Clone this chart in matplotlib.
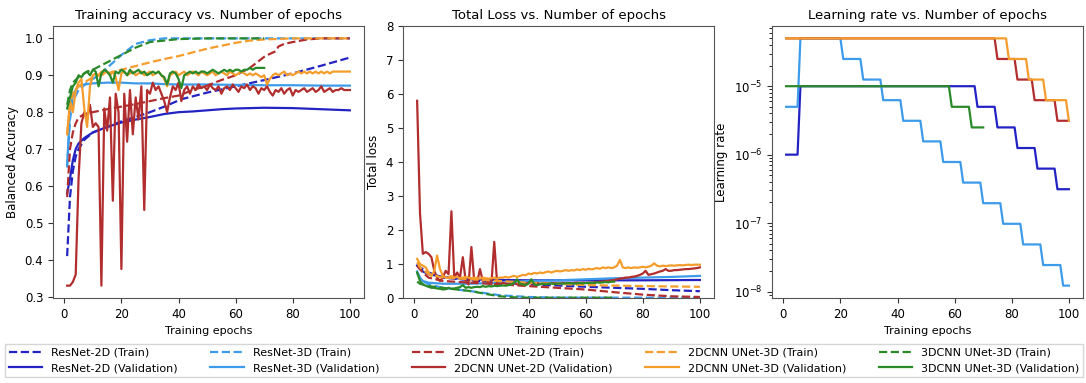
import matplotlib
matplotlib.use("Agg")
import matplotlib.pyplot as plt

# ---------------- data ----------------
epochs = list(range(1, 101))
epochs70 = list(range(1, 71))

# Accuracy (smooth curves, sampled epochs)
acc_r2d_train_x = [1, 2, 3, 4, 5, 7, 10, 15, 20, 25, 30, 35, 41, 50, 60, 70, 80, 90, 100]
acc_r2d_train = [0.41, 0.57, 0.64, 0.68, 0.70, 0.725, 0.745, 0.76, 0.775, 0.787, 0.80, 0.815, 0.835,
                 0.853, 0.87, 0.887, 0.905, 0.926, 0.948]
acc_r2d_val_x = [1, 2, 3, 4, 5, 7, 10, 15, 20, 25, 30, 35, 40, 45, 50, 55, 60, 70, 80, 90, 100]
acc_r2d_val = [0.58, 0.62, 0.67, 0.70, 0.715, 0.73, 0.745, 0.76, 0.772, 0.78, 0.787, 0.795, 0.80,
               0.802, 0.805, 0.808, 0.81, 0.812, 0.811, 0.808, 0.805]
acc_r3d_train_x = [1, 2, 3, 5, 8, 12, 15, 20, 25, 30, 35, 50, 100]
acc_r3d_train = [0.65, 0.78, 0.83, 0.86, 0.88, 0.90, 0.92, 0.955, 0.985, 0.995, 1.0, 1.0, 1.0]
acc_r3d_val_x = [1, 2, 3, 4, 5, 7, 10, 15, 20, 25, 30, 35, 40, 50, 60, 70, 80, 90, 100]
acc_r3d_val = [0.66, 0.80, 0.845, 0.86, 0.87, 0.875, 0.878, 0.88, 0.88, 0.878, 0.878, 0.876, 0.875,
               0.875, 0.874, 0.873, 0.873, 0.872, 0.872]
acc_u2d_train_x = [1, 2, 3, 4, 5, 7, 10, 15, 20, 25, 30, 35, 40, 45, 50, 55, 60, 65, 70, 72, 74, 75,
                   77, 80, 85, 90, 100]
acc_u2d_train = [0.57, 0.70, 0.745, 0.77, 0.785, 0.795, 0.80, 0.808, 0.815, 0.822, 0.83, 0.838,
                 0.845, 0.86, 0.872, 0.887, 0.90, 0.92, 0.95, 0.958, 0.965, 0.978, 0.985, 0.99,
                 0.997, 1.0, 1.0]
acc_u2d_val = [0.33, 0.33, 0.34, 0.36, 0.62, 0.77, 0.80, 0.78, 0.82, 0.76,
               0.77, 0.76, 0.33, 0.81, 0.75, 0.84, 0.56, 0.85, 0.80, 0.375,
               0.85, 0.72, 0.86, 0.74, 0.84, 0.78, 0.87, 0.535, 0.86, 0.85,
               0.88, 0.86, 0.87, 0.85, 0.83, 0.80, 0.84, 0.87, 0.86, 0.88,
               0.83, 0.86, 0.87, 0.85, 0.87, 0.86, 0.875, 0.865, 0.87, 0.86,
               0.875, 0.865, 0.86, 0.87, 0.85, 0.865, 0.87, 0.86, 0.875, 0.865,
               0.855, 0.87, 0.865, 0.875, 0.86, 0.87, 0.865, 0.85, 0.865, 0.86,
               0.87, 0.855, 0.845, 0.86, 0.855, 0.865, 0.85, 0.86, 0.865, 0.845,
               0.86, 0.855, 0.86, 0.865, 0.855, 0.86, 0.865, 0.855, 0.86, 0.87,
               0.855, 0.86, 0.865, 0.855, 0.86, 0.86, 0.865, 0.86, 0.86, 0.86]
acc_u3d_train_x = [1, 2, 3, 5, 7, 10, 15, 20, 25, 30, 35, 40, 45, 50, 55, 60, 65, 70, 80, 100]
acc_u3d_train = [0.74, 0.82, 0.85, 0.87, 0.88, 0.895, 0.905, 0.915, 0.925, 0.935, 0.944, 0.952,
                 0.962, 0.972, 0.98, 0.988, 0.994, 0.997, 1.0, 1.0]
acc_u3d_val = [0.74, 0.83, 0.80, 0.86, 0.88, 0.89, 0.81, 0.76, 0.87, 0.90,
               0.905, 0.90, 0.91, 0.905, 0.91, 0.90, 0.91, 0.895, 0.86, 0.905,
               0.91, 0.90, 0.905, 0.91, 0.90, 0.905, 0.91, 0.90, 0.905, 0.91,
               0.90, 0.905, 0.91, 0.90, 0.89, 0.87, 0.90, 0.905, 0.91, 0.90,
               0.905, 0.91, 0.90, 0.905, 0.91, 0.905, 0.90, 0.91, 0.905, 0.90,
               0.905, 0.91, 0.90, 0.905, 0.91, 0.905, 0.90, 0.91, 0.905, 0.90,
               0.905, 0.91, 0.905, 0.90, 0.905, 0.90, 0.905, 0.90, 0.895, 0.90,
               0.875, 0.89, 0.90, 0.905, 0.90, 0.905, 0.91, 0.90, 0.905, 0.90,
               0.905, 0.91, 0.905, 0.91, 0.905, 0.91, 0.905, 0.91, 0.905, 0.91,
               0.905, 0.91, 0.905, 0.91, 0.91, 0.91, 0.91, 0.91, 0.91, 0.91]
acc_c3d_train_x = [1, 2, 3, 5, 8, 10, 15, 20, 25, 30, 40, 50, 70]
acc_c3d_train = [0.82, 0.86, 0.88, 0.895, 0.91, 0.915, 0.935, 0.955, 0.975, 0.99, 0.998, 1.0, 1.0]
acc_c3d_val = [0.81, 0.84, 0.87, 0.88, 0.90, 0.895, 0.905, 0.91, 0.90, 0.915,
               0.91, 0.87, 0.905, 0.915, 0.91, 0.90, 0.88, 0.91, 0.905, 0.915,
               0.91, 0.90, 0.915, 0.905, 0.91, 0.915, 0.905, 0.91, 0.90, 0.905,
               0.91, 0.905, 0.91, 0.90, 0.895, 0.875, 0.905, 0.91, 0.905, 0.89,
               0.865, 0.90, 0.905, 0.91, 0.905, 0.91, 0.905, 0.91, 0.91, 0.905,
               0.91, 0.915, 0.91, 0.905, 0.91, 0.915, 0.91, 0.915, 0.91, 0.915,
               0.915, 0.91, 0.915, 0.915, 0.92, 0.915, 0.92, 0.92, 0.92, 0.92]

# Loss
loss_r2d_train_x = [1, 2, 5, 10, 20, 30, 40, 50, 60, 70, 80, 90, 100]
loss_r2d_train = [1.0, 0.9, 0.75, 0.6, 0.52, 0.45, 0.40, 0.37, 0.33, 0.30, 0.27, 0.23, 0.20]
loss_r2d_val_x = [1, 2, 3, 5, 10, 15, 20, 30, 40, 60, 80, 100]
loss_r2d_val = [0.95, 0.85, 0.78, 0.70, 0.62, 0.58, 0.55, 0.53, 0.52, 0.52, 0.52, 0.53]
loss_r3d_train_x = [1, 2, 5, 10, 20, 30, 40, 50, 100]
loss_r3d_train = [0.75, 0.55, 0.40, 0.30, 0.20, 0.08, 0.03, 0.01, 0.01]
loss_r3d_val_x = [1, 2, 3, 5, 10, 20, 30, 40, 50, 60, 70, 80, 90, 100]
loss_r3d_val = [0.78, 0.60, 0.50, 0.45, 0.42, 0.42, 0.45, 0.50, 0.52, 0.55, 0.58, 0.60, 0.62, 0.65]
loss_u2d_train_x = [1, 2, 3, 5, 10, 20, 30, 40, 50, 60, 70, 80, 90, 100]
loss_u2d_train = [0.95, 0.85, 0.75, 0.60, 0.50, 0.45, 0.40, 0.35, 0.30, 0.25, 0.17, 0.10, 0.05, 0.03]
loss_u2d_val = [5.8, 2.5, 1.3, 1.35, 1.3, 1.2, 0.8, 0.6, 0.5, 0.6,
                0.8, 0.7, 2.55, 0.6, 0.75, 0.6, 1.2, 0.5, 0.4, 1.5,
                0.5, 0.45, 0.85, 0.5, 0.55, 0.45, 0.4, 1.65, 0.45, 0.4,
                0.45, 0.42, 0.4, 0.42, 0.45, 0.4, 0.42, 0.4, 0.42, 0.45,
                0.43, 0.42, 0.44, 0.42, 0.43, 0.44, 0.42, 0.43, 0.44, 0.43,
                0.42, 0.44, 0.43, 0.44, 0.43, 0.44, 0.45, 0.44, 0.45, 0.44,
                0.45, 0.45, 0.46, 0.47, 0.48, 0.48, 0.50, 0.50, 0.52, 0.53,
                0.55, 0.57, 0.58, 0.60, 0.60, 0.62, 0.63, 0.65, 0.68, 0.72,
                0.80, 0.68, 0.70, 0.72, 0.75, 0.78, 0.80, 0.85, 0.80, 0.80,
                0.82, 0.82, 0.83, 0.84, 0.85, 0.85, 0.86, 0.87, 0.88, 0.90]
loss_u3d_train_x = [1, 2, 5, 10, 20, 30, 40, 60, 80, 100]
loss_u3d_train = [1.05, 0.9, 0.7, 0.6, 0.55, 0.5, 0.45, 0.38, 0.35, 0.33]
loss_u3d_val = [1.15, 1.0, 0.95, 0.9, 0.75, 0.65, 0.8, 1.25, 0.85, 0.65,
                0.6, 0.6, 0.65, 0.6, 0.62, 0.58, 0.6, 0.62, 0.6, 0.58,
                0.6, 0.58, 0.57, 0.6, 0.58, 0.57, 0.58, 0.6, 0.57, 0.6,
                0.6, 0.62, 0.6, 0.63, 0.65, 0.62, 0.65, 0.68, 0.67, 0.72,
                0.7, 0.74, 0.72, 0.75, 0.73, 0.76, 0.78, 0.75, 0.78, 0.8,
                0.78, 0.8, 0.82, 0.8, 0.82, 0.81, 0.84, 0.82, 0.85, 0.83,
                0.86, 0.84, 0.86, 0.88, 0.86, 0.9, 0.88, 0.9, 0.88, 0.9,
                0.95, 1.12, 0.9, 0.88, 0.9, 0.88, 0.9, 0.89, 0.9, 0.92,
                0.9, 0.92, 0.95, 1.02, 0.95, 0.93, 0.95, 0.94, 0.95, 0.96,
                0.95, 0.96, 0.97, 0.96, 0.97, 0.98, 0.97, 0.98, 0.98, 0.98]
loss_c3d_train_x = [1, 2, 5, 10, 15, 20, 25, 30, 35, 40, 70]
loss_c3d_train = [0.48, 0.42, 0.35, 0.30, 0.25, 0.20, 0.12, 0.05, 0.02, 0.01, 0.01]
loss_c3d_val = [0.75, 0.5, 0.4, 0.36, 0.33, 0.3, 0.3, 0.28, 0.27, 0.25,
                0.26, 0.3, 0.27, 0.28, 0.3, 0.32, 0.38, 0.3, 0.32, 0.3,
                0.32, 0.33, 0.32, 0.35, 0.33, 0.35, 0.34, 0.36, 0.35, 0.36,
                0.37, 0.36, 0.38, 0.4, 0.45, 0.55, 0.42, 0.4, 0.38, 0.42,
                0.55, 0.4, 0.38, 0.4, 0.42, 0.4, 0.42, 0.43, 0.41, 0.42,
                0.43, 0.42, 0.43, 0.44, 0.43, 0.42, 0.43, 0.44, 0.43, 0.44,
                0.44, 0.45, 0.44, 0.46, 0.45, 0.46, 0.47, 0.46, 0.48, 0.48]

# Learning-rate schedules (per epoch)
lr_r2d = [1e-6] * 5 + [1e-5] * 62 + [5e-6] * 7 + [2.5e-6] * 7 + [1.25e-6] * 7 + [6.25e-7] * 7 + [3.125e-7] * 5
lr_r3d = ([5e-6] * 5 + [5e-5] * 15 + [2.5e-5] * 7 + [1.25e-5] * 7 + [6.25e-6] * 7 + [3.125e-6] * 7
          + [1.5625e-6] * 7 + [7.8125e-7] * 7 + [3.90625e-7] * 7 + [1.953e-7] * 7 + [9.77e-8] * 7
          + [4.88e-8] * 7 + [2.44e-8] * 7 + [1.22e-8] * 3)
lr_u2d = [5e-5] * 74 + [2.5e-5] * 7 + [1.25e-5] * 6 + [6.25e-6] * 8 + [3.125e-6] * 5
lr_u3d = [5e-5] * 78 + [2.5e-5] * 7 + [1.25e-5] * 6 + [6.25e-6] * 8 + [3.125e-6] * 1
lr_c3d = [1e-5] * 58 + [5e-6] * 7 + [2.5e-6] * 5

names = ["ResNet-2D", "ResNet-3D", "2DCNN UNet-2D", "2DCNN UNet-3D", "3DCNN UNet-3D"]
colors = ["#2323c4", "#3d9be9", "#b22d2d", "#f59d2c", "#2a8a2a"]

# ---------------- figure ----------------
W, H = 1086, 383
fig = plt.figure(figsize=(W / 100, H / 100), dpi=100)
plt.rcParams['font.family'] = ['DejaVu Sans']

def px_axes(l, r, t, b):
    return fig.add_axes([l / W, 1 - b / H, (r - l) / W, (b - t) / H])

ax1 = px_axes(53, 364, 26, 298)
ax2 = px_axes(403, 714, 26, 298)
ax3 = px_axes(772, 1083, 26, 298)

lw = 1.6
handles = []
acc_train = [(acc_r2d_train_x, acc_r2d_train), (acc_r3d_train_x, acc_r3d_train),
             (acc_u2d_train_x, acc_u2d_train), (acc_u3d_train_x, acc_u3d_train),
             (acc_c3d_train_x, acc_c3d_train)]
acc_val = [(acc_r2d_val_x, acc_r2d_val), (acc_r3d_val_x, acc_r3d_val),
           (epochs, acc_u2d_val), (epochs, acc_u3d_val), (epochs70, acc_c3d_val)]
loss_train = [(loss_r2d_train_x, loss_r2d_train), (loss_r3d_train_x, loss_r3d_train),
              (loss_u2d_train_x, loss_u2d_train), (loss_u3d_train_x, loss_u3d_train),
              (loss_c3d_train_x, loss_c3d_train)]
loss_val = [(loss_r2d_val_x, loss_r2d_val), (loss_r3d_val_x, loss_r3d_val),
            (epochs, loss_u2d_val), (epochs, loss_u3d_val), (epochs70, loss_c3d_val)]
lrs = [(epochs, lr_r2d), (epochs, lr_r3d), (epochs, lr_u2d), (epochs, lr_u3d), (epochs70, lr_c3d)]

for i, name in enumerate(names):
    c = colors[i]
    h1, = ax1.plot(*acc_train[i], '--', color=c, lw=lw, label=f"{name} (Train)")
    h2, = ax1.plot(*acc_val[i], '-', color=c, lw=lw, label=f"{name} (Validation)")
    ax2.plot(*loss_train[i], '--', color=c, lw=lw)
    ax2.plot(*loss_val[i], '-', color=c, lw=lw)
    handles += [h1, h2]

lr_order = [0, 1, 4, 2, 3]
for i in lr_order:
    ax3.plot(*lrs[i], '-', color=colors[i], lw=lw)
ax3.set_yscale('log')

ax2.set_ylim(0, 8)
for ax in (ax1, ax2, ax3):
    ax.set_xticks([0, 20, 40, 60, 80, 100])

titles = ["Training accuracy vs. Number of epochs", "Total Loss vs. Number of epochs",
          "Learning rate vs. Number of epochs"]
ylabels = ["Balanced Accuracy", "Total loss", "Learning rate"]
for ax, t, yl in zip([ax1, ax2, ax3], titles, ylabels):
    ax.set_title(t, fontsize=9.5, pad=5)
    ax.set_xlabel("Training epochs", fontsize=8)
    ax.set_ylabel(yl, fontsize=8.5)
    ax.tick_params(labelsize=8.5, length=3.5, color='#333333')
    for s in ax.spines.values():
        s.set_color('#555555')

fig.legend(handles=handles, ncol=5, loc='lower left', mode='expand',
           bbox_to_anchor=(5 / W, 6 / H, 1078 / W, 38 / H), fontsize=8,
           frameon=True, fancybox=False, edgecolor='#cccccc', handlelength=3.0,
           handletextpad=0.8, borderaxespad=0, columnspacing=1.0,
           labelspacing=0.5, borderpad=0.35)

fig.savefig("out.png", dpi=100)
